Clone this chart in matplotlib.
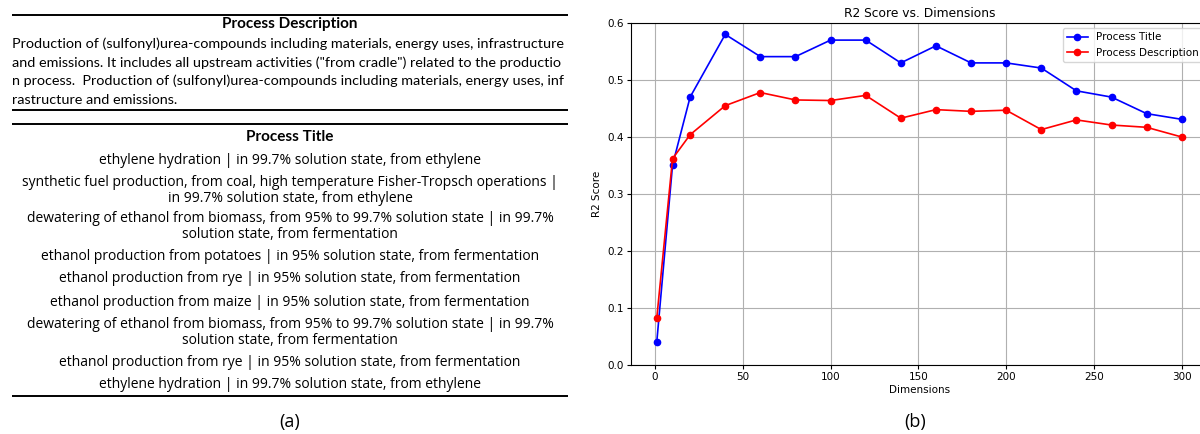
import matplotlib
matplotlib.use("Agg")
import matplotlib.pyplot as plt

# data for panel (b)
dimensions = [1, 10, 20, 40, 60, 80, 100, 120, 140, 160, 180, 200, 220, 240, 260, 280, 300]
title_r2 = [0.040, 0.351, 0.470, 0.580, 0.541, 0.541, 0.570, 0.570, 0.530, 0.560,
            0.530, 0.530, 0.521, 0.481, 0.470, 0.441, 0.431]
desc_r2 = [0.082, 0.362, 0.404, 0.455, 0.478, 0.465, 0.464, 0.473, 0.433, 0.448,
           0.445, 0.447, 0.413, 0.430, 0.421, 0.417, 0.400]

# text for panel (a)
desc_header = "Process Description"
desc_lines = [
    "Production of (sulfonyl)urea-compounds including materials, energy uses, infrastructure",
    "and emissions. It includes all upstream activities (\"from cradle\") related to the productio",
    "n process.  Production of (sulfonyl)urea-compounds including materials, energy uses, inf",
    "rastructure and emissions.",
]
title_header = "Process Title"
title_lines = [
    "ethylene hydration | in 99.7% solution state, from ethylene",
    "synthetic fuel production, from coal, high temperature Fisher-Tropsch operations |",
    "in 99.7% solution state, from ethylene",
    "dewatering of ethanol from biomass, from 95% to 99.7% solution state | in 99.7%",
    "solution state, from fermentation",
    "ethanol production from potatoes | in 95% solution state, from fermentation",
    "ethanol production from rye | in 95% solution state, from fermentation",
    "ethanol production from maize | in 95% solution state, from fermentation",
    "dewatering of ethanol from biomass, from 95% to 99.7% solution state | in 99.7%",
    "solution state, from fermentation",
    "ethanol production from rye | in 95% solution state, from fermentation",
    "ethylene hydration | in 99.7% solution state, from ethylene",
]
title_y = [161, 182, 198, 219, 235, 256, 279, 303, 324, 340, 362, 384]
desc_y = [44, 62.5, 81, 99.5]

fig = plt.figure(figsize=(12, 4.34), dpi=100)

# panel (a): a pixel-coordinate canvas
bg = fig.add_axes([0, 0, 1, 1])
bg.set_xlim(0, 1200)
bg.set_ylim(434, 0)
bg.axis("off")

bg.hlines([15, 110, 124, 396], 12, 568, color="black", linewidth=1.4)
bg.text(290, 24, desc_header, ha="center", va="center", fontsize=11,
        fontweight="bold", family="Lato")
for y, line in zip(desc_y, desc_lines):
    bg.text(12, y, line, ha="left", va="center", fontsize=10.35, family="Lato")
bg.text(290, 137, title_header, ha="center", va="center", fontsize=11,
        fontweight="bold", family="Lato")
for y, line in zip(title_y, title_lines):
    bg.text(290, y, line, ha="center", va="center", fontsize=10,
            family="Open Sans")
bg.text(290, 422, "(a)", ha="center", va="center", fontsize=13, family="Open Sans")
bg.text(915, 422, "(b)", ha="center", va="center", fontsize=13, family="Open Sans")

# panel (b)
ax = fig.add_axes([630.5 / 1200, 69 / 434, 577.5 / 1200, 342 / 434])
ax.plot(dimensions, title_r2, "o-", color="blue", label="Process Title",
        markersize=4.5, linewidth=1.2)
ax.plot(dimensions, desc_r2, "o-", color="red", label="Process Description",
        markersize=4.5, linewidth=1.2)
ax.set_ylim(0, 0.6)
ax.set_title("R2 Score vs. Dimensions", fontsize=8.8, pad=4)
ax.set_xlabel("Dimensions", fontsize=7.5, labelpad=2)
ax.set_ylabel("R2 Score", fontsize=7.5, labelpad=4)
ax.tick_params(labelsize=7.5, length=3, pad=2)
ax.grid(True)
ax.legend(loc="upper right", fontsize=7.5)

plt.savefig("out.png", dpi=100)
